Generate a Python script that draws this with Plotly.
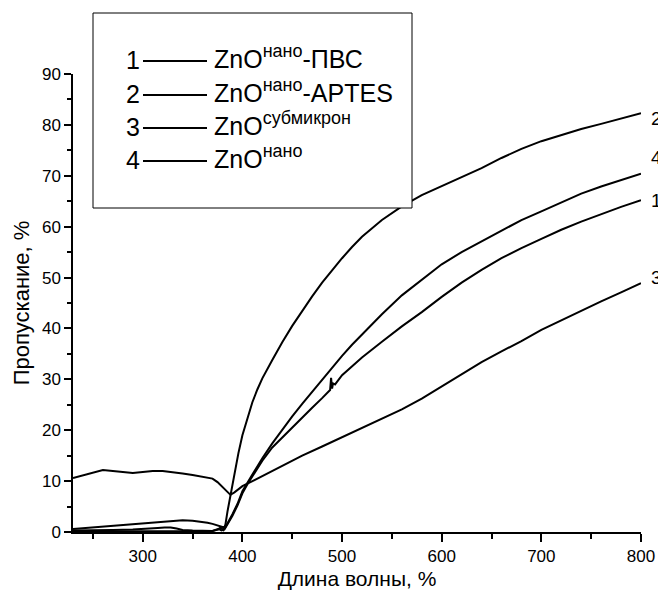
import plotly.graph_objects as go

# ---- data ----
x1 = [230, 250, 270, 290, 305, 315, 322, 328, 334, 340, 350, 360, 370, 376, 379, 382, 385, 390, 395, 400, 405,
      410, 415, 420, 430, 440, 450, 460, 470, 480, 486, 488, 489, 490, 491, 493, 500, 510, 520, 540, 560, 580,
      600, 620, 640, 660, 680, 700, 720, 740, 760, 780, 800]
y1 = [0.3, 0.3, 0.4, 0.5, 0.6, 0.8, 0.9, 0.9, 0.7, 0.4, 0.3, 0.3, 0.2, 0.6, 0.3, 0.5, 1.5, 3.2, 5.2, 7.6, 9.4,
      11.0, 12.6, 14.0, 16.6, 18.6, 20.4, 22.4, 24.4, 26.3, 27.4, 27.9, 30.3, 28.2, 29.2, 29.0, 30.8, 32.6, 34.3,
      37.4, 40.4, 43.2, 46.2, 49.0, 51.5, 53.8, 55.8, 57.6, 59.4, 61.0, 62.5, 63.9, 65.2]

x2 = [230, 260, 290, 320, 350, 370, 376, 378, 381, 383, 385, 388, 390, 393, 396, 400, 405, 410, 415, 420, 430,
      440, 450, 460, 470, 480, 490, 500, 510, 520, 540, 560, 580, 600, 620, 640, 660, 680, 700, 720, 740, 760,
      780, 800]
y2 = [0.1, 0.1, 0.2, 0.2, 0.2, 0.2, 0.5, 0.9, 0.4, 1.5, 4.0, 7.3, 9.5, 12.5, 15.5, 19.0, 22.5, 25.5, 28.0, 30.2,
      33.8, 37.3, 40.5, 43.5, 46.3, 49.0, 51.5, 53.8, 56.0, 58.0, 61.3, 64.0, 66.2, 68.0, 69.7, 71.5, 73.5, 75.3,
      76.8, 78.0, 79.2, 80.2, 81.3, 82.3]

x3 = [230, 240, 250, 260, 270, 280, 290, 300, 310, 320, 330, 340, 350, 360, 370, 375, 380, 385, 388, 392, 396,
      400, 405, 410, 420, 440, 460, 480, 500, 520, 540, 560, 580, 600, 620, 640, 660, 680, 700, 720, 740, 760,
      780, 800]
y3 = [10.6, 11.1, 11.7, 12.2, 12.0, 11.8, 11.6, 11.8, 12.0, 12.0, 11.8, 11.5, 11.2, 10.9, 10.5, 9.8, 8.9, 7.9,
      7.3, 7.8, 8.4, 9.0, 9.5, 10.0, 11.1, 13.0, 15.0, 16.8, 18.6, 20.4, 22.2, 24.1, 26.2, 28.6, 31.0, 33.4, 35.5,
      37.5, 39.7, 41.6, 43.5, 45.3, 47.1, 48.9]

x4 = [230, 250, 270, 290, 310, 330, 340, 350, 360, 365, 370, 375, 380, 383, 386, 390, 395, 400, 410, 420, 430,
      440, 450, 460, 470, 480, 490, 500, 510, 520, 530, 540, 560, 580, 600, 620, 640, 660, 680, 700, 720, 740,
      760, 780, 800]
y4 = [0.6, 0.9, 1.2, 1.5, 1.8, 2.2, 2.3, 2.2, 2.0, 1.8, 1.6, 1.3, 1.0, 1.0, 2.0, 3.5, 5.5, 8.0, 11.3, 14.5,
      17.4, 20.1, 22.7, 25.2, 27.6, 30.0, 32.2, 34.6, 36.8, 38.8, 40.8, 42.8, 46.5, 49.6, 52.6, 55.0, 57.1, 59.2,
      61.3, 63.0, 64.8, 66.5, 67.9, 69.2, 70.4]

series_numbers = ["1", "2", "3", "4"]
series_base = ["ZnO", "ZnO", "ZnO", "ZnO"]
series_sup = ["нано", "нано", "субмикрон", "нано"]
series_tail = ["-ПВС", "-APTES", "", ""]
end_label_values = [65.2, 81.3, 50.1, 73.5]   # y-position of the number labels at the right end

FONT = "Liberation Sans, Arial, sans-serif"

series_names = [f"{b}<sup>{s}</sup>{t}" for b, s, t in zip(series_base, series_sup, series_tail)]

fig = go.Figure()
for xs, ys, nm in zip([x1, x2, x3, x4], [y1, y2, y3, y4], series_names):
    fig.add_trace(go.Scatter(x=xs, y=ys, mode="lines", name=nm,
                             line=dict(color="black", width=2), showlegend=False))

# plot area geometry in px (for the hand-made legend in paper coordinates)
L, R, T, B = 73, 641, 74, 532
def px(xp):
    return (xp - L) / (R - L)
def py(yp):
    return (B - yp) / (B - T)

shapes = [dict(type="rect", xref="paper", yref="paper",
               x0=px(93), x1=px(412), y0=py(208), y1=py(13),
               line=dict(color="black", width=1), fillcolor="white", layer="above")]
annotations = []
row_y = [60, 94, 127, 160]
for num, b, s, t, ry in zip(series_numbers, series_base, series_sup, series_tail, row_y):
    shapes.append(dict(type="line", xref="paper", yref="paper",
                       x0=px(143), x1=px(207), y0=py(ry + 1), y1=py(ry + 1),
                       line=dict(color="black", width=2), layer="above"))
    annotations.append(dict(xref="paper", yref="paper", x=px(124), y=py(ry), text=num,
                            showarrow=False, xanchor="left", yanchor="middle",
                            font=dict(family=FONT, size=25, color="black")))
    label = f"{b}<sup><span style='font-size:18px'>{s}</span></sup>{t}"
    annotations.append(dict(xref="paper", yref="paper", x=px(212), y=py(ry - 3), text=label,
                            showarrow=False, xanchor="left", yanchor="middle",
                            font=dict(family=FONT, size=25, color="black")))

for num, v in zip(series_numbers, end_label_values):
    annotations.append(dict(xref="x", yref="y", x=800, y=v, text=num, showarrow=False,
                            xanchor="left", yanchor="middle", xshift=8,
                            font=dict(family=FONT, size=19, color="black")))

fig.update_layout(
    width=658, height=600,
    margin=dict(l=L, r=658 - R, t=T, b=600 - B, autoexpand=False),
    paper_bgcolor="white", plot_bgcolor="white",
    font=dict(family=FONT, color="black"),
    shapes=shapes, annotations=annotations,
    xaxis=dict(range=[230, 800], showgrid=False, zeroline=False,
               showline=True, linecolor="black", linewidth=1.5,
               ticks="outside", ticklen=8, tickwidth=1.5, tickcolor="black",
               tick0=300, dtick=100,
               minor=dict(ticks="outside", ticklen=5, tickwidth=1.5, tickcolor="black", dtick=50, tick0=250),
               tickfont=dict(family=FONT, size=17, color="black"),
               title=dict(text="Длина волны, %", font=dict(family=FONT, size=21, color="black"), standoff=6)),
    yaxis=dict(range=[0, 90], showgrid=False, zeroline=False,
               showline=True, linecolor="black", linewidth=1.5,
               ticks="outside", ticklen=7, tickwidth=1.5, tickcolor="black",
               tick0=0, dtick=10,
               minor=dict(ticks="outside", ticklen=4, tickwidth=1.5, tickcolor="black", dtick=5),
               tickfont=dict(family=FONT, size=17, color="black"),
               title=dict(text="Пропускание, %", font=dict(family=FONT, size=22, color="black"), standoff=6)),
)

fig.write_html("out.html")
